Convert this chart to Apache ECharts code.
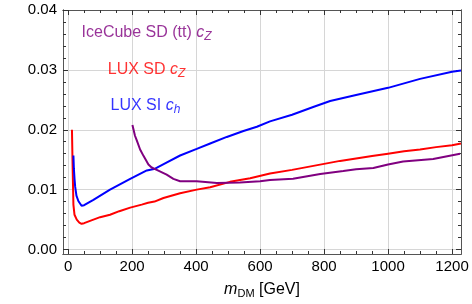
<!DOCTYPE html>
<html><head><meta charset="utf-8">
<script src="https://cdn.jsdelivr.net/npm/echarts@6/dist/echarts.min.js"></script>
<style>html,body{margin:0;padding:0;background:#fff}#c{width:472px;height:304px}</style>
</head><body><div id="c"></div>
<script>
// ---- data ----
const luxSdX = [12, 14, 16.5, 20, 27, 35, 42, 50, 79, 100, 131, 160, 194, 230, 250, 270, 298, 350, 402, 444, 506, 569, 631, 700, 750, 800, 850, 900, 950, 1000, 1050, 1100, 1150, 1200, 1228];
const luxSdY = [0.0200, 0.0140, 0.0075, 0.0058, 0.0050, 0.0045, 0.0043, 0.0044, 0.0050, 0.0054, 0.0058, 0.0064, 0.0070, 0.0075, 0.0078, 0.0080, 0.0086, 0.0094, 0.0100, 0.0104, 0.0113, 0.0119, 0.0127, 0.0133, 0.0138, 0.0143, 0.0148, 0.0152, 0.0156, 0.0160, 0.0164, 0.0167, 0.0171, 0.0174, 0.0177];
const luxSiX = [16.6, 18, 20, 22, 26, 32, 42, 50, 79, 131, 194, 246, 272, 300, 350, 402, 444, 496, 548, 590, 631, 700, 766, 819, 900, 1000, 1100, 1200, 1228];
const luxSiY = [0.0157, 0.0135, 0.0118, 0.0105, 0.0090, 0.0081, 0.0073, 0.0074, 0.0083, 0.0100, 0.0118, 0.0132, 0.0135, 0.0143, 0.0157, 0.0168, 0.0177, 0.0188, 0.0198, 0.0205, 0.0214, 0.0225, 0.0238, 0.0248, 0.0258, 0.0270, 0.0285, 0.0297, 0.0299];
const iceX = [201, 209, 214, 225, 236, 251, 261, 277, 308, 329, 350, 402, 465, 537, 600, 631, 703, 788, 860, 900, 954, 1000, 1047, 1141, 1225];
const iceY = [0.0208, 0.0190, 0.0183, 0.0167, 0.0156, 0.0142, 0.0137, 0.0133, 0.0125, 0.0118, 0.0114, 0.0114, 0.0111, 0.0112, 0.0114, 0.0116, 0.0118, 0.0126, 0.0131, 0.0134, 0.0136, 0.0142, 0.0147, 0.0151, 0.0160];
const xMajor = [0, 200, 400, 600, 800, 1000, 1200];
const xMinor = [0, 50, 100, 150, 200, 250, 300, 350, 400, 450, 500, 550, 600, 650, 700, 750, 800, 850, 900, 950, 1000, 1050, 1100, 1150, 1200];
const yMajor = [0, 0.01, 0.02, 0.03, 0.04];
const yMinor = [0, 0.002, 0.004, 0.006, 0.008, 0.01, 0.012, 0.014, 0.016, 0.018, 0.02, 0.022, 0.024, 0.026, 0.028, 0.03, 0.032, 0.034, 0.036, 0.038, 0.04];
const labelTexts = ['IceCube SD (tt) {i|c}{s|Z}', 'LUX SD {i|c}{s|Z}', 'LUX SI {i|c}{s|h}'];
const labelX = [42, 124, 132.5];
const labelY = [0.0362, 0.0300, 0.0240];
// ---- chart ----
const FONT = "'Liberation Sans', Arial, sans-serif";
const X_MIN = -16, X_MAX = 1228, Y_MIN = -0.00075, Y_MAX = 0.04;
const axisCol = '#555';
const tickCol = '#333';
function zip(a, b) { return a.map((v, i) => [v, b[i]]); }
function xAx(pos, ticks, len, main) {
  const ax = {
    type: 'value', position: pos, min: X_MIN, max: X_MAX,
    axisLine: { show: true, onZero: false, lineStyle: { color: axisCol, width: 1 } },
    axisTick: { show: true, inside: true, length: len, customValues: ticks, lineStyle: { color: tickCol, width: 1 } },
    axisLabel: { show: main, customValues: xMajor, fontSize: 15, color: '#000', fontFamily: FONT, margin: 5,
      formatter: v => String(Math.round(v)) },
    splitLine: { show: main, lineStyle: { color: '#d6d6d6', width: 1 } }
  };
  if (main) {
    ax.name = '{i|m}{s|DM} [GeV]';
    ax.nameLocation = 'middle'; ax.nameGap = 26;
    ax.nameTextStyle = { fontSize: 16, color: '#000', fontFamily: FONT,
      rich: { i: { fontStyle: 'italic', fontSize: 16, fontFamily: FONT, color: '#000' },
              s: { fontSize: 11, fontFamily: FONT, color: '#000', padding: [8, 0, 0, 0] } } };
  }
  return ax;
}
function yAx(pos, ticks, len, main) {
  return {
    type: 'value', position: pos, min: Y_MIN, max: Y_MAX,
    axisLine: { show: true, onZero: false, lineStyle: { color: axisCol, width: 1 } },
    axisTick: { show: true, inside: true, length: len, customValues: ticks, lineStyle: { color: tickCol, width: 1 } },
    axisLabel: { show: main, customValues: yMajor, fontSize: 15, color: '#000', fontFamily: FONT, margin: 6,
      formatter: v => v.toFixed(2) },
    splitLine: { show: main, lineStyle: { color: '#d6d6d6', width: 1 } }
  };
}
const chart = echarts.init(document.getElementById('c'));
const lineS = (name, x, y, col) => ({
  name, type: 'line', data: zip(x, y), showSymbol: false, symbol: 'none', smooth: false,
  lineStyle: { color: col, width: 2 }, xAxisIndex: 0, yAxisIndex: 0, z: 5
});
const annCols = ['#800080', '#ff0000', '#0000ff'];
chart.setOption({
  animation: false,
  grid: { left: 63, top: 10, width: 398, height: 244 },
  xAxis: [xAx('bottom', xMajor, 5, true), xAx('bottom', xMinor, 3, false), xAx('top', xMajor, 5, false), xAx('top', xMinor, 3, false)],
  yAxis: [yAx('left', yMajor, 5, true), yAx('left', yMinor, 3, false), yAx('right', yMajor, 5, false), yAx('right', yMinor, 3, false)],
  series: [
    lineS('LUX SD', luxSdX, luxSdY, '#ff0000'),
    lineS('LUX SI', luxSiX, luxSiY, '#0000ff'),
    lineS('IceCube SD', iceX, iceY, '#800080'),
    {
      type: 'scatter', symbolSize: 0, xAxisIndex: 0, yAxisIndex: 0, z: 6,
      data: labelX.map((x, i) => ({
        value: [x, labelY[i]],
        label: {
          show: true, position: 'right', distance: 0, formatter: labelTexts[i],
          fontSize: 16, fontFamily: FONT, color: annCols[i],
          rich: {
            i: { fontStyle: 'italic', fontSize: 16, fontFamily: FONT, color: annCols[i] },
            s: { fontStyle: 'italic', fontSize: 12, fontFamily: FONT, color: annCols[i], padding: [8, 0, 0, 0] }
          }
        }
      }))
    }
  ]
});
</script></body></html>
